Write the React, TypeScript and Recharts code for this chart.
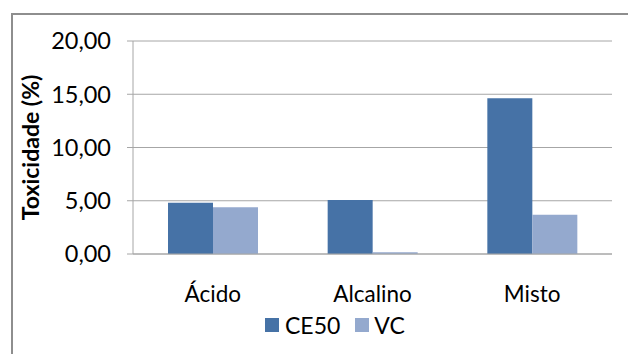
import React from 'react';
import {
  BarChart,
  Bar,
  XAxis,
  YAxis,
  CartesianGrid,
  Legend
} from 'recharts';

// Tipos de efluente e os dois indicadores de toxicidade
const categorias = ['Ácido', 'Alcalino', 'Misto'];
const ce50 = [4.81, 5.06, 14.62];
const vc = [4.38, 0.16, 3.68];
const ticksY = [0, 5, 10, 15, 20];

const dados = categorias.map((nome, i) => ({ nome, CE50: ce50[i], VC: vc[i] }));

const COR_CE50 = '#4672a6';
const COR_VC = '#94a9ce';
const FONTE = 'Lato, "Open Sans", sans-serif';

const formatarValor = (v: number) => v.toFixed(2).replace('.', ',');

const LegendaCustom = () => (
  <div
    style={{
      display: 'flex',
      alignItems: 'center',
      boxSizing: 'border-box',
      paddingLeft: 265,
      paddingBottom: 18,
      fontFamily: FONTE,
      fontSize: 23,
      color: '#000',
      height: 40,
      lineHeight: '23px'
    }}
  >
    <span style={{ width: 14, height: 14, background: COR_CE50, display: 'inline-block' }} />
    <span style={{ marginLeft: 6 }}>CE50</span>
    <span style={{ width: 14, height: 14, background: COR_VC, display: 'inline-block', marginLeft: 15 }} />
    <span style={{ marginLeft: 5 }}>VC</span>
  </div>
);

const App: React.FC = () => {
  return (
    <div style={{ position: 'absolute', left: 0, top: 0, width: 628, height: 354, overflow: 'hidden', background: '#fff' }}>
      {/* moldura do gráfico */}
      <div
        style={{
          position: 'absolute',
          left: 11,
          top: 13,
          width: 640,
          height: 400,
          border: '2px solid #8e8e8e',
          boxSizing: 'border-box'
        }}
      />
      <BarChart
        width={628}
        height={354}
        data={dados}
        margin={{ top: 41, right: 16, bottom: 0, left: 0 }}
        barSize={45}
        barGap={0}
        style={{ position: 'absolute', left: 0, top: 0 }}
      >
        <CartesianGrid vertical={false} stroke="#a6a6a6" strokeWidth={1} />
        <XAxis
          dataKey="nome"
          height={60}
          tickLine={false}
          tickSize={0}
          tickMargin={32}
          axisLine={{ stroke: '#a6a6a6' }}
          tick={{ fill: '#000', fontSize: 22.5, fontFamily: FONTE }}
        />
        <YAxis
          width={133}
          domain={[0, 20]}
          ticks={ticksY}
          interval={0}
          tickSize={6}
          tickMargin={16}
          tickFormatter={formatarValor}
          axisLine={{ stroke: '#a6a6a6' }}
          tickLine={{ stroke: '#a6a6a6' }}
          tick={{ fill: '#000', fontSize: 23.5, fontFamily: FONTE }}
          label={{
            value: 'Toxicidade (%)',
            angle: -90,
            position: 'center',
            dx: -36,
            style: { fill: '#000', fontSize: 23, fontWeight: 700, fontFamily: FONTE, textAnchor: 'middle' }
          }}
        />
        <Legend verticalAlign="bottom" height={40} content={<LegendaCustom />} />
        <Bar dataKey="CE50" fill={COR_CE50} isAnimationActive={false} />
        <Bar dataKey="VC" fill={COR_VC} isAnimationActive={false} />
      </BarChart>
    </div>
  );
};

export default App;
